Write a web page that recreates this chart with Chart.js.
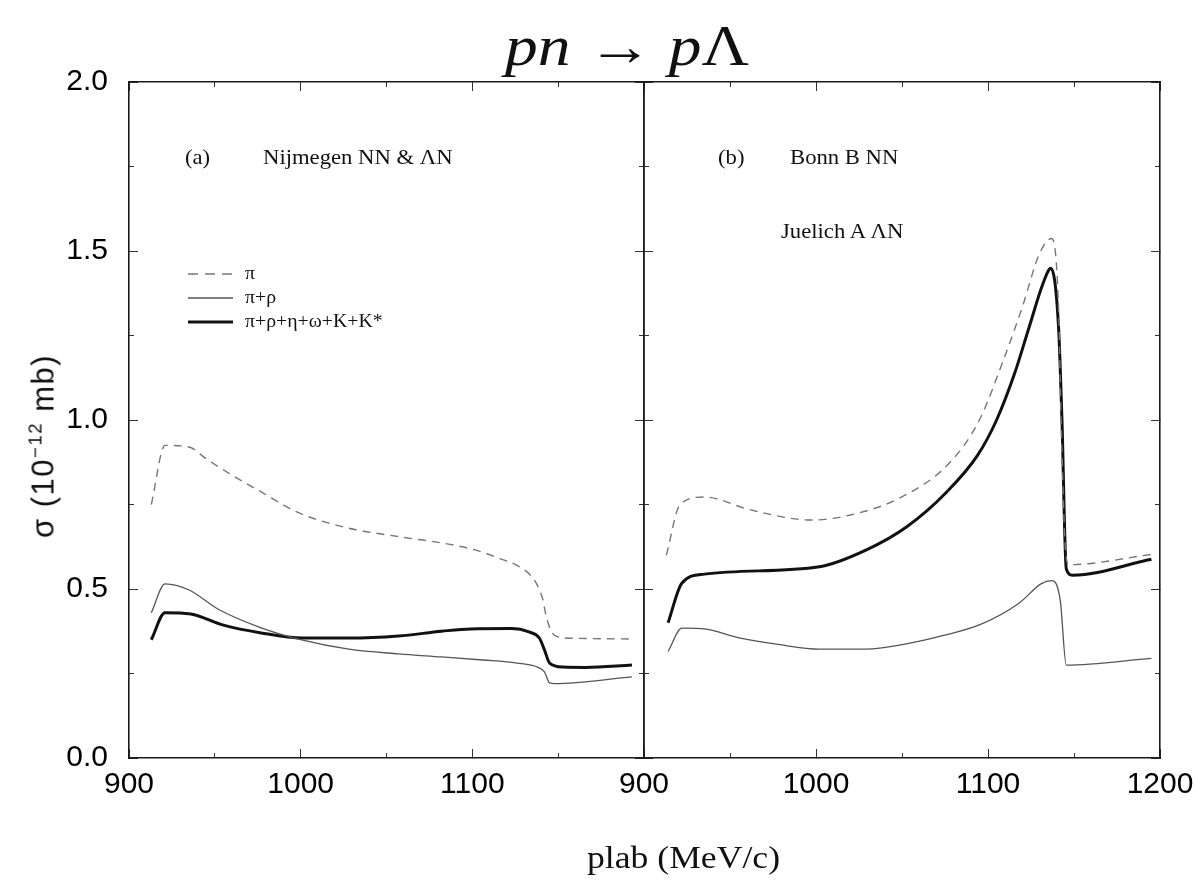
<!DOCTYPE html>
<html>
<head>
<meta charset="utf-8">
<title>pn → pΛ</title>
<script src="https://cdn.jsdelivr.net/npm/chart.js@4.4.0/dist/chart.umd.min.js"></script>
<style>
  body { margin: 0; background: #fff; }
  #wrap { position: relative; width: 1195px; height: 882px; overflow: hidden; }
  canvas { position: absolute; left: 0; top: 0; }
  .txt { position: absolute; white-space: nowrap; line-height: 1; color: #111; transform-origin: 0 0;
         font-family: "Liberation Serif", "Times New Roman", serif; }
  .lab { font-size: 21px; top: 147px; transform: scaleX(1.08); }
  .leg { font-size: 18px; left: 245px; transform: scaleX(1.1); }
  #ytitle { left: 43px; top: 446px; font-family: "Liberation Sans", Arial, sans-serif; font-size: 31px;
            letter-spacing: 1.5px; transform-origin: 50% 50%; transform: translate(-50%, -50%) rotate(-90deg); }
  #ytitle sup { font-size: 0.6em; position: relative; top: -0.65em; vertical-align: baseline; }
</style>
</head>
<body>
<div id="wrap">
  <canvas id="panelA" width="1195" height="882" style="width:1195px;height:882px"></canvas>
  <canvas id="panelB" width="1260" height="882" style="width:1260px;height:882px"></canvas>

  <div class="txt" style="left:505px; top:18px; font-size:56px; transform:scaleX(1.17);"><i>pn</i> → <i>p</i>Λ</div>

  <div class="txt lab" style="left:185px;">(a)</div>
  <div class="txt lab" style="left:263px;">Nijmegen NN &amp; ΛN</div>
  <div class="txt lab" style="left:718px;">(b)</div>
  <div class="txt lab" style="left:790px;">Bonn B NN</div>
  <div class="txt lab" style="left:781px; top:221px;">Juelich A ΛN</div>

  <svg style="position:absolute; left:188px; top:264px;" width="50" height="64">
    <line x1="0" y1="10" x2="45" y2="10" stroke="#777" stroke-width="1.4" stroke-dasharray="10 7"/>
    <line x1="0" y1="34" x2="45" y2="34" stroke="#555" stroke-width="1.3"/>
    <line x1="0" y1="58" x2="45" y2="58" stroke="#111" stroke-width="3"/>
  </svg>
  <div class="txt leg" style="top:264px;">π</div>
  <div class="txt leg" style="top:288px;">π+ρ</div>
  <div class="txt leg" style="top:312px;">π+ρ+η+ω+K+K*</div>

  <div class="txt" id="ytitle">σ (10<sup>−12</sup> mb)</div>
  <div class="txt" style="left:587px; top:842px; font-size:31px; transform:scaleX(1.15);">plab (MeV/c)</div>
</div>

<script>
// (a) Nijmegen NN & ΛN
const plabA_pi = [913, 921, 935, 945, 959, 976, 999, 1028, 1057, 1087, 1104, 1116, 1126, 1134, 1138, 1141, 1143, 1146, 1150, 1160, 1194];
const sigmaA_pi = [0.75, 0.925, 0.92, 0.885, 0.84, 0.79, 0.725, 0.68, 0.655, 0.632, 0.612, 0.59, 0.57, 0.54, 0.51, 0.47, 0.42, 0.375, 0.358, 0.354, 0.352];
const plabA_rho = [913, 921, 935, 952, 977, 1000, 1028, 1057, 1082, 1106, 1126, 1138, 1142, 1145, 1148, 1193];
const sigmaA_rho = [0.43, 0.515, 0.497, 0.44, 0.385, 0.35, 0.322, 0.308, 0.299, 0.29, 0.281, 0.269, 0.255, 0.222, 0.22, 0.24];
const plabA_all = [913, 921, 936, 955, 977, 1001, 1028, 1057, 1082, 1099, 1123, 1133, 1139, 1142, 1145, 1153, 1166, 1193];
const sigmaA_all = [0.35, 0.43, 0.426, 0.393, 0.37, 0.355, 0.355, 0.361, 0.375, 0.382, 0.383, 0.373, 0.355, 0.32, 0.281, 0.269, 0.268, 0.275];

// (b) Bonn B NN, Juelich A ΛN
const plabB_pi = [913, 921, 935, 962, 997, 1020, 1049, 1078, 1095, 1109, 1120, 1130, 1137, 1141, 1142.5, 1145, 1147, 1196];
const sigmaB_pi = [0.60, 0.75, 0.772, 0.734, 0.704, 0.719, 0.77, 0.875, 1.0, 1.178, 1.335, 1.493, 1.537, 1.335, 1.0, 0.62, 0.572, 0.603];
const plabB_rho = [914, 922, 936, 954, 978, 1002, 1029, 1051, 1073, 1096, 1118, 1131, 1137, 1142, 1145.5, 1195];
const sigmaB_rho = [0.315, 0.384, 0.381, 0.357, 0.336, 0.322, 0.322, 0.336, 0.361, 0.396, 0.458, 0.516, 0.525, 0.467, 0.275, 0.295];
const plabB_all = [914, 922, 935, 1002, 1029, 1053, 1076, 1094, 1105, 1115.5, 1124, 1132, 1136.6, 1141, 1143, 1145.5, 1149, 1195];
const sigmaB_all = [0.40, 0.517, 0.544, 0.566, 0.615, 0.685, 0.787, 0.896, 1.0, 1.138, 1.276, 1.404, 1.449, 1.276, 1.0, 0.56, 0.541, 0.588];

const seriesNames = ['π', 'π+ρ', 'π+ρ+η+ω+K+K*'];
const xTicks = [900, 1000, 1100, 1200];
const yTicks = [0, 0.5, 1.0, 1.5, 2.0];

const tickFont = { family: 'Liberation Sans', size: 30 };
const frameBorder = { display: true, color: '#1a1a1a', width: 1.6 };

function pts(xs, ys) {
  return xs.map((x, i) => ({ x: x, y: ys[i] }));
}

function datasets(piX, piY, rhoX, rhoY, allX, allY) {
  const common = { pointRadius: 0, fill: false, cubicInterpolationMode: 'monotone', xAxisID: 'x', yAxisID: 'y' };
  return [
    Object.assign({ label: seriesNames[0], data: pts(piX, piY), borderColor: '#777', borderWidth: 1.4, borderDash: [8, 6] }, common),
    Object.assign({ label: seriesNames[1], data: pts(rhoX, rhoY), borderColor: '#555', borderWidth: 1.3 }, common),
    Object.assign({ label: seriesNames[2], data: pts(allX, allY), borderColor: '#111', borderWidth: 3 }, common)
  ];
}

function fixSize(size) {
  return function (scale) {
    if (scale.isHorizontal()) scale.height = size; else scale.width = size;
  };
}

function tickGrid(len) {
  return { drawOnChartArea: false, drawTicks: true, tickLength: len, color: '#333', lineWidth: 1 };
}

// four framed sides, each with a long-tick axis and a short-tick axis
function panelScales(yWidth, showYLabels, xLabel) {
  const xr = { type: 'linear', min: xTicks[0], max: xTicks[xTicks.length - 1] };
  const yr = { type: 'linear', min: yTicks[0], max: yTicks[yTicks.length - 1] };
  return {
    x: Object.assign({}, xr, {
      position: 'bottom', weight: 1, border: frameBorder, grid: tickGrid(-9),
      ticks: { stepSize: 100, padding: 18, maxRotation: 0, autoSkip: false, color: '#000', font: tickFont, callback: xLabel },
      afterFit: fixSize(124)
    }),
    xMinor: Object.assign({}, xr, {
      position: 'bottom', weight: 0, border: { display: false }, grid: tickGrid(-5),
      ticks: { stepSize: 50, display: false }, afterFit: fixSize(0)
    }),
    xTop: Object.assign({}, xr, {
      position: 'top', weight: 1, border: frameBorder, grid: tickGrid(-9),
      ticks: { stepSize: 100, display: false }, afterFit: fixSize(0)
    }),
    xTopMinor: Object.assign({}, xr, {
      position: 'top', weight: 0, border: { display: false }, grid: tickGrid(-5),
      ticks: { stepSize: 50, display: false }, afterFit: fixSize(0)
    }),
    y: Object.assign({}, yr, {
      position: 'left', weight: 1, border: frameBorder, grid: tickGrid(-9),
      ticks: { stepSize: 0.5, padding: 30, display: showYLabels, color: '#000', font: tickFont,
               callback: (v) => Number(v).toFixed(1) },
      afterFit: fixSize(yWidth)
    }),
    yMinor: Object.assign({}, yr, {
      position: 'left', weight: 0, border: { display: false }, grid: tickGrid(-5),
      ticks: { stepSize: 0.25, display: false }, afterFit: fixSize(0)
    }),
    yRight: Object.assign({}, yr, {
      position: 'right', weight: 1, border: frameBorder, grid: tickGrid(-9),
      ticks: { stepSize: 0.5, display: false }, afterFit: fixSize(0)
    }),
    yRightMinor: Object.assign({}, yr, {
      position: 'right', weight: 0, border: { display: false }, grid: tickGrid(-5),
      ticks: { stepSize: 0.25, display: false }, afterFit: fixSize(0)
    })
  };
}

function makePanel(id, data, padding, yWidth, showYLabels, xLabel) {
  return new Chart(document.getElementById(id), {
    type: 'line',
    data: { datasets: data },
    options: {
      responsive: false,
      animation: false,
      layout: { padding: padding },
      plugins: { legend: { display: false }, tooltip: { enabled: false }, title: { display: false } },
      scales: panelScales(yWidth, showYLabels, xLabel)
    }
  });
}

// panel (a): its right edge doubles as the 900 of panel (b), so 1200 is not labelled here
makePanel('panelA',
  datasets(plabA_pi, sigmaA_pi, plabA_rho, sigmaA_rho, plabA_all, sigmaA_all),
  { left: 0, right: 551, top: 82, bottom: 0 }, 129, true,
  (v) => (v === 1200 ? '' : String(v)));

// panel (b) canvas runs past the page edge, so its 1200 label is cut like in the original
makePanel('panelB',
  datasets(plabB_pi, sigmaB_pi, plabB_rho, sigmaB_rho, plabB_all, sigmaB_all),
  { left: 644, right: 100, top: 82, bottom: 0 }, 0, false,
  (v) => String(v));
</script>
</body>
</html>
